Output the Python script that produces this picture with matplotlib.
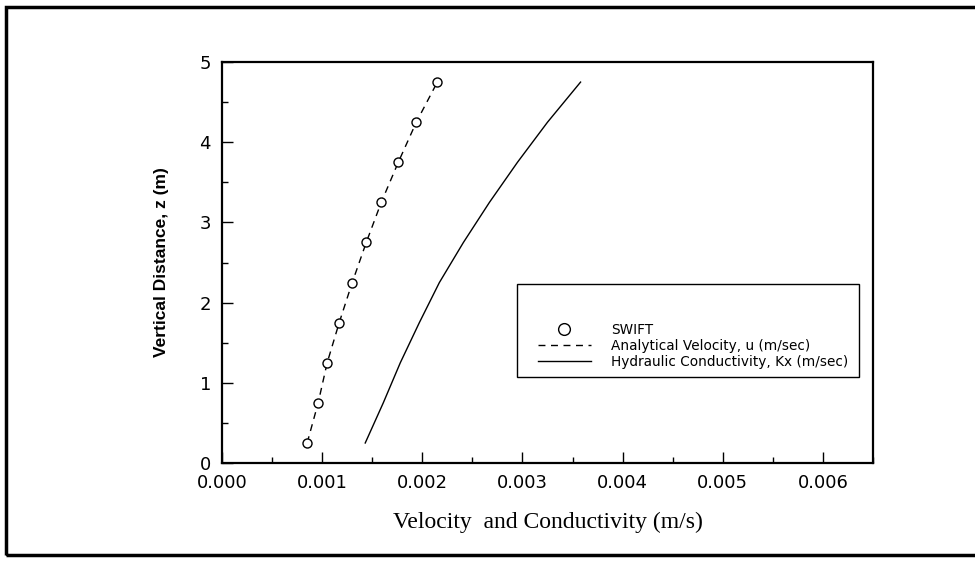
import matplotlib.pyplot as plt
from matplotlib.patches import Rectangle
from matplotlib.ticker import MultipleLocator

# depth of the SWIFT cells (m)
z = [0.25, 0.75, 1.25, 1.75, 2.25, 2.75, 3.25, 3.75, 4.25, 4.75]

# SWIFT simulated velocity (m/s)
swift_u = [0.00085, 0.00096, 0.00105, 0.00117, 0.00130,
           0.00144, 0.00159, 0.00176, 0.00194, 0.00215]

# analytical velocity (m/s)
analytic_u = [0.00085, 0.00096, 0.00105, 0.00117, 0.00130,
              0.00144, 0.00159, 0.00176, 0.00194, 0.00215]

# hydraulic conductivity Kx (m/s)
cond_kx = [0.00143, 0.00161, 0.00178, 0.00197, 0.00217,
           0.00241, 0.00267, 0.00295, 0.00325, 0.00358]

fig = plt.figure(figsize=(9.75, 5.64), dpi=100)
ax = fig.add_axes([0.2277, 0.179, 0.6677, 0.711])

ax.plot(swift_u, z, linestyle='none', marker='o', markersize=6.5,
        markerfacecolor='white', markeredgecolor='black', markeredgewidth=1,
        label='SWIFT')
ax.plot(analytic_u, z, color='black', linewidth=1, linestyle=(0, (5, 4)),
        label='Analytical Velocity, u (m/sec)', zorder=1)
ax.plot(cond_kx, z, color='black', linewidth=1,
        label='Hydraulic Conductivity, Kx (m/sec)')

ax.set_xlim(0, 0.0065)
ax.set_ylim(0, 5)
ax.xaxis.set_major_locator(MultipleLocator(0.001))
ax.xaxis.set_minor_locator(MultipleLocator(0.0005))
ax.yaxis.set_major_locator(MultipleLocator(1))
ax.yaxis.set_minor_locator(MultipleLocator(0.5))
ax.xaxis.set_major_formatter(plt.FormatStrFormatter('%.3f'))

ax.tick_params(which='both', direction='in', top=False, right=False,
               labelsize=13, width=1)
ax.tick_params(which='major', length=8)
ax.tick_params(which='minor', length=4)
ax.tick_params(axis='x', pad=8)
ax.tick_params(axis='y', pad=8)
for s in ax.spines.values():
    s.set_linewidth(1.6)

ax.set_ylabel('Vertical Distance, z (m)', fontsize=12.5, fontweight='bold',
              family='Liberation Sans', labelpad=22)
ax.set_xlabel('Velocity  and Conductivity (m/s)', fontsize=17,
              family='Liberation Serif', labelpad=14)

# legend box drawn separately, entries placed inside it
fig.patches.append(Rectangle((517 / 975, 1 - 377 / 564), (859 - 517) / 975,
                             (377 - 284) / 564, transform=fig.transFigure,
                             fill=False, edgecolor='black', linewidth=1))
fig.legend(loc='upper left', bbox_to_anchor=(531 / 975, 1 - 316 / 564),
           frameon=False, fontsize=9.8, handlelength=3.9, handletextpad=1.5,
           labelspacing=0.15, borderpad=0, markerscale=1.3)

# outer frame
fig.patches.append(Rectangle((6 / 975, 1 - 555 / 564), 975 / 975,
                             (555 - 7) / 564, transform=fig.transFigure,
                             fill=False, edgecolor='black', linewidth=2.5))

fig.savefig('out.png', dpi=100)
